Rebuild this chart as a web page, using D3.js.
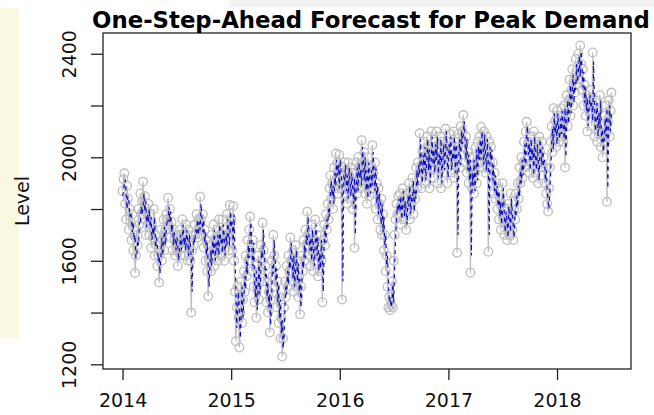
<!DOCTYPE html>
<html>
<head>
<meta charset="utf-8">
<script src="https://cdn.jsdelivr.net/npm/d3@7/dist/d3.min.js"></script>
<style>
  html, body { margin: 0; padding: 0; background: #ffffff; }
  svg { display: block; font-family: "DejaVu Sans", sans-serif; }
</style>
</head>
<body>
<svg id="chart" width="654" height="415"></svg>
<script>
// Peak demand, sampled every 3 days from the start of 2014
const startYear = 2014;
const stepDays = 3;

// Observed peak demand
const actual = [
  1870, 1915, 1938, 1820, 1760, 1890, 1840, 1720, 1800, 1750,
  1680, 1780, 1640, 1700, 1553, 1620, 1720, 1660, 1800, 1740,
  1860, 1780, 1830, 1906, 1760, 1850, 1700, 1800, 1740, 1820,
  1700, 1780, 1650, 1740, 1690, 1800, 1620, 1700, 1660, 1580,
  1620, 1516, 1640, 1720, 1600, 1680, 1760, 1640, 1720, 1780,
  1760, 1843, 1740, 1800, 1690, 1750, 1640, 1720, 1680, 1620,
  1700, 1640, 1580, 1660, 1720, 1620, 1700, 1760, 1650, 1700,
  1620, 1740, 1680, 1600, 1720, 1660, 1600, 1400, 1640, 1700,
  1660, 1740, 1700, 1780, 1690, 1760, 1720, 1848, 1760, 1700,
  1780, 1650, 1720, 1600, 1680, 1560, 1463, 1600, 1660, 1560,
  1700, 1620, 1740, 1580, 1680, 1640, 1720, 1600, 1760, 1660,
  1700, 1620, 1760, 1680, 1600, 1720, 1650, 1780, 1700, 1640,
  1816, 1720, 1760, 1640, 1812, 1600, 1480, 1289, 1420, 1500,
  1380, 1265, 1400, 1520, 1360, 1450, 1560, 1480, 1620, 1540,
  1680, 1600, 1720, 1771, 1640, 1560, 1680, 1500, 1440, 1580,
  1380, 1500, 1620, 1450, 1560, 1660, 1600, 1747, 1640, 1520,
  1580, 1440, 1520, 1400, 1480, 1323, 1450, 1600, 1540, 1700,
  1620, 1500, 1580, 1420, 1520, 1360, 1460, 1300, 1380, 1230,
  1300, 1420, 1520, 1460, 1580, 1500, 1620, 1560, 1690, 1600,
  1520, 1640, 1480, 1580, 1660, 1500, 1600, 1460, 1540, 1393,
  1500, 1620, 1560, 1680, 1600, 1720, 1660, 1790, 1700, 1620,
  1700, 1580, 1740, 1640, 1560, 1680, 1760, 1600, 1700, 1540,
  1640, 1560, 1700, 1600, 1440, 1680, 1740, 1660, 1780, 1720,
  1820, 1760, 1880, 1930, 1840, 1900, 1800, 1960, 1880, 2015,
  1920, 1980, 1860, 2010, 1940, 1880, 1450, 1960, 1900, 1980,
  1860, 1940, 1820, 1980, 1900, 1840, 1960, 1880, 1800, 1940,
  1650, 1900, 1980, 1860, 2000, 1920, 1960, 1880, 2066, 1980,
  1900, 2020, 1860, 1960, 1820, 2000, 1900, 1850, 1960, 1880,
  2047, 1940, 1860, 1980, 1800, 1900, 1760, 1880, 1820, 1720,
  1840, 1700, 1780, 1640, 1700, 1560, 1620, 1500, 1420, 1460,
  1410, 1430, 1520, 1420, 1600, 1700, 1760, 1820, 1780, 1850,
  1780, 1860, 1740, 1820, 1880, 1760, 1840, 1790, 1720, 1860,
  1800, 1900, 1760, 1860, 1820, 1920, 1780, 1880, 1840, 1960,
  1880, 1980, 1920, 2093, 1960, 1880, 2020, 1940, 2060, 1900,
  2000, 2080, 1940, 2040, 1880, 2000, 2100, 1960, 2040, 1920,
  2060, 1980, 2100, 1900, 2020, 1960, 2080, 1880, 2000, 2060,
  1940, 2040, 2110, 1980, 1900, 2060, 2000, 2090, 1940, 2030,
  1980, 2100, 1920, 2060, 2000, 1631, 2040, 2090, 1960, 2120,
  2040, 2100, 2163, 2060, 1980, 2080, 1940, 2020, 1900, 2000,
  1554, 1960, 1880, 2000, 1860, 1940, 2040, 1900, 2060, 1980,
  2080, 1980, 2116, 2040, 1960, 2100, 2000, 1940, 2080, 1960,
  1635, 2060, 1980, 2040, 1900, 1980, 1860, 1940, 1840, 1900,
  1800, 1880, 1760, 1840, 1720, 1820, 1900, 1760, 1700, 1800,
  1740, 1680, 1820, 1760, 1700, 1860, 1780, 1720, 1680, 1800,
  1760, 1860, 1800, 1900, 1840, 1960, 1900, 2000, 1920, 1980,
  2060, 1960, 2100, 2137, 2000, 2060, 1940, 2080, 1980, 2040,
  1920, 2100, 2000, 1940, 2060, 1980, 1900, 2080, 2020, 1960,
  2060, 1960, 2000, 1900, 1960, 1860, 1820, 1790, 1880, 1960,
  2060, 2120, 2020, 2190, 2080, 2140, 2040, 2180, 2100, 2060,
  2160, 2080, 2190, 2120, 2060, 2200, 1960, 2160, 2240, 2120,
  2220, 2300, 2160, 2260, 2340, 2200, 2300, 2250, 2380, 2280,
  2340, 2400, 2300, 2432, 2360, 2260, 2340, 2200, 2280, 2160,
  2240, 2100, 2200, 2260, 2180, 2220, 2120, 2405, 2200, 2080,
  2160, 2220, 2060, 2180, 2100, 2240, 2040, 2120, 2000, 2080,
  2160, 2060, 2200, 1828, 2140, 2220, 2080, 2180, 2250
];

// One-step-ahead forecast of the same series
const forecast = [
  1850, 1865, 1895, 1915, 1860, 1800, 1850, 1840, 1770, 1790,
  1765, 1710, 1750, 1680, 1700, 1610, 1620, 1680, 1660, 1750,
  1740, 1810, 1780, 1810, 1860, 1790, 1830, 1730, 1780, 1750,
  1800, 1730, 1770, 1680, 1730, 1700, 1770, 1650, 1690, 1660,
  1600, 1620, 1550, 1620, 1690, 1620, 1670, 1730, 1660, 1710,
  1760, 1750, 1810, 1750, 1790, 1710, 1740, 1660, 1710, 1680,
  1640, 1690, 1650, 1600, 1650, 1700, 1640, 1690, 1740, 1660,
  1690, 1640, 1720, 1680, 1620, 1700, 1660, 1610, 1480, 1620,
  1690, 1670, 1720, 1700, 1760, 1700, 1750, 1720, 1820, 1760,
  1710, 1760, 1670, 1710, 1620, 1670, 1580, 1500, 1590, 1640,
  1580, 1680, 1630, 1720, 1600, 1670, 1640, 1700, 1620, 1740,
  1670, 1690, 1630, 1740, 1690, 1620, 1700, 1660, 1760, 1700,
  1660, 1790, 1730, 1750, 1660, 1780, 1620, 1500, 1340, 1420,
  1480, 1400, 1300, 1390, 1500, 1380, 1440, 1540, 1490, 1600,
  1550, 1660, 1610, 1700, 1750, 1650, 1580, 1670, 1520, 1460,
  1560, 1410, 1490, 1600, 1470, 1550, 1640, 1610, 1720, 1640,
  1540, 1570, 1460, 1510, 1420, 1470, 1350, 1440, 1580, 1550,
  1680, 1610, 1520, 1570, 1440, 1510, 1380, 1450, 1320, 1370,
  1260, 1310, 1410, 1500, 1470, 1560, 1510, 1600, 1570, 1670,
  1610, 1530, 1620, 1500, 1570, 1640, 1520, 1590, 1480, 1530,
  1420, 1500, 1600, 1570, 1660, 1610, 1700, 1660, 1770, 1700,
  1640, 1690, 1600, 1720, 1650, 1580, 1670, 1740, 1620, 1690,
  1560, 1630, 1570, 1680, 1610, 1480, 1660, 1720, 1670, 1760,
  1730, 1800, 1770, 1860, 1910, 1850, 1890, 1820, 1940, 1890,
  1990, 1930, 1970, 1880, 1990, 1940, 1890, 1520, 1930, 1910,
  1970, 1870, 1930, 1840, 1960, 1900, 1850, 1940, 1880, 1820,
  1920, 1700, 1890, 1960, 1870, 1980, 1920, 1950, 1890, 2040,
  1980, 1910, 2000, 1870, 1950, 1840, 1980, 1910, 1860, 1950,
  1890, 2020, 1940, 1870, 1960, 1820, 1890, 1780, 1860, 1820,
  1740, 1820, 1710, 1770, 1660, 1700, 1580, 1620, 1520, 1440,
  1460, 1420, 1440, 1510, 1440, 1580, 1680, 1750, 1810, 1790,
  1840, 1790, 1850, 1760, 1820, 1870, 1770, 1830, 1790, 1740,
  1850, 1810, 1890, 1780, 1850, 1830, 1910, 1790, 1870, 1840,
  1950, 1890, 1970, 1930, 2070, 1960, 1900, 2010, 1950, 2040,
  1910, 1990, 2070, 1950, 2030, 1900, 1990, 2080, 1970, 2030,
  1940, 2050, 1990, 2080, 1920, 2010, 1970, 2070, 1900, 1990,
  2050, 1950, 2030, 2100, 1990, 1920, 2050, 2000, 2080, 1950,
  2020, 1990, 2080, 1940, 2050, 1990, 1700, 2020, 2070, 1970,
  2100, 2050, 2090, 2140, 2060, 1990, 2070, 1950, 2010, 1910,
  1990, 1620, 1940, 1890, 1990, 1870, 1940, 2030, 1910, 2040,
  1990, 2070, 1990, 2100, 2040, 1970, 2090, 2000, 1950, 2070,
  1970, 1700, 2040, 1990, 2030, 1910, 1970, 1870, 1930, 1850,
  1890, 1810, 1870, 1770, 1830, 1740, 1810, 1880, 1770, 1710,
  1790, 1750, 1690, 1810, 1760, 1710, 1840, 1780, 1730, 1690,
  1790, 1770, 1850, 1810, 1890, 1850, 1950, 1900, 1990, 1930,
  1970, 2050, 1970, 2090, 2120, 2010, 2050, 1950, 2070, 1990,
  2030, 1930, 2080, 2000, 1950, 2050, 1980, 1910, 2070, 2020,
  1970, 2040, 1970, 1990, 1910, 1950, 1870, 1830, 1800, 1870,
  1950, 2050, 2110, 2030, 2170, 2090, 2130, 2050, 2170, 2100,
  2070, 2150, 2090, 2180, 2120, 2070, 2190, 2000, 2150, 2220,
  2130, 2210, 2280, 2170, 2250, 2320, 2210, 2290, 2260, 2360,
  2290, 2330, 2390, 2310, 2410, 2350, 2270, 2330, 2210, 2270,
  2180, 2230, 2120, 2190, 2240, 2190, 2210, 2140, 2370, 2210,
  2100, 2150, 2210, 2080, 2170, 2110, 2220, 2060, 2110, 2020,
  2070, 2150, 2080, 2190, 1880, 2130, 2200, 2100, 2170
];

const xTickValues = [2014, 2015, 2016, 2017, 2018];
const yTickValues = [1200, 1400, 1600, 1800, 2000, 2200, 2400];
const yLabelValues = [1200, 1600, 2000, 2400];
const titleText = "One-Step-Ahead Forecast for Peak Demand";
const yAxisTitle = "Level";

const timeOf = i => startYear + i * stepDays / 365.25;
const obs = actual.map((v, i) => ({ t: timeOf(i), v }));
const fc = forecast.map((v, i) => ({ t: timeOf(i), v }));

const svg = d3.select("#chart");
const W = 654, H = 415;
const plot = { left: 103, right: 631, top: 33, bottom: 369 };

svg.append("rect").attr("width", W).attr("height", H).attr("fill", "#ffffff");

// faint background decoration along the left and top edges
svg.append("rect").attr("x", 0).attr("y", 8).attr("width", 19).attr("height", 330)
  .attr("fill", "#f8f4cf").attr("opacity", 0.6);
svg.append("rect").attr("x", 230).attr("y", 0).attr("width", 424).attr("height", 7)
  .attr("fill", "#ececec").attr("opacity", 0.7);

// axis ranges padded 4% beyond the data, as in base graphics
const tExt = d3.extent(obs, d => d.t);
const vExt = d3.extent(obs, d => d.v);
const tPad = (tExt[1] - tExt[0]) * 0.04;
const vPad = (vExt[1] - vExt[0]) * 0.04;

const x = d3.scaleLinear().domain([tExt[0] - tPad, tExt[1] + tPad]).range([plot.left, plot.right]);
const y = d3.scaleLinear().domain([vExt[0] - vPad, vExt[1] + vPad]).range([plot.bottom, plot.top]);

const gray = "#bebebe";
const g = svg.append("g");

// observed series: connecting line plus open circles
g.append("path").datum(obs)
  .attr("fill", "none").attr("stroke", gray).attr("stroke-width", 1.3)
  .attr("d", d3.line().x(d => x(d.t)).y(d => y(d.v)));

g.selectAll("circle.obs").data(obs).join("circle")
  .attr("class", "obs")
  .attr("cx", d => x(d.t)).attr("cy", d => y(d.v)).attr("r", 4.3)
  .attr("fill", "none").attr("stroke", gray).attr("stroke-width", 1.3);

// forecast: dashed blue line
g.append("path").datum(fc)
  .attr("fill", "none").attr("stroke", "#0a0ad2").attr("stroke-width", 1.15)
  .attr("stroke-dasharray", "4,4")
  .attr("d", d3.line().x(d => x(d.t)).y(d => y(d.v)));

// plot frame
svg.append("rect")
  .attr("x", plot.left).attr("y", plot.top)
  .attr("width", plot.right - plot.left).attr("height", plot.bottom - plot.top)
  .attr("fill", "none").attr("stroke", "#222").attr("stroke-width", 1.3);

// x axis
const xAxis = svg.append("g").attr("transform", `translate(0,${plot.bottom})`)
  .call(d3.axisBottom(x).tickValues(xTickValues).tickFormat(d3.format("d")).tickSize(11).tickPadding(14));
xAxis.select(".domain").remove();
xAxis.selectAll("line").attr("stroke", "#222").attr("stroke-width", 1.3);
xAxis.selectAll("text").attr("font-size", 19).attr("fill", "#111")
  .attr("font-family", "DejaVu Sans").attr("dy", "0.71em");

// y axis with rotated labels on every other tick
const yAxis = svg.append("g").attr("transform", `translate(${plot.left},0)`)
  .call(d3.axisLeft(y).tickValues(yTickValues).tickSize(12)
    .tickFormat(d => yLabelValues.includes(d) ? d3.format("d")(d) : ""));
yAxis.select(".domain").remove();
yAxis.selectAll("line").attr("stroke", "#222").attr("stroke-width", 1.3);
yAxis.selectAll("text")
  .attr("font-size", 19).attr("fill", "#111").attr("font-family", "DejaVu Sans")
  .attr("text-anchor", "middle").attr("x", 0).attr("y", -27.5).attr("dy", 0)
  .attr("transform", "rotate(-90)");

// axis title
svg.append("text")
  .attr("transform", `translate(29,${(plot.top + plot.bottom) / 2}) rotate(-90)`)
  .attr("text-anchor", "middle").attr("font-size", 19).attr("fill", "#111")
  .text(yAxisTitle);

// main title
svg.append("text")
  .attr("x", (plot.left + plot.right) / 2 + 4).attr("y", 28)
  .attr("text-anchor", "middle").attr("font-size", 22.8).attr("font-weight", "bold")
  .attr("fill", "#000").text(titleText);
</script>
</body>
</html>
